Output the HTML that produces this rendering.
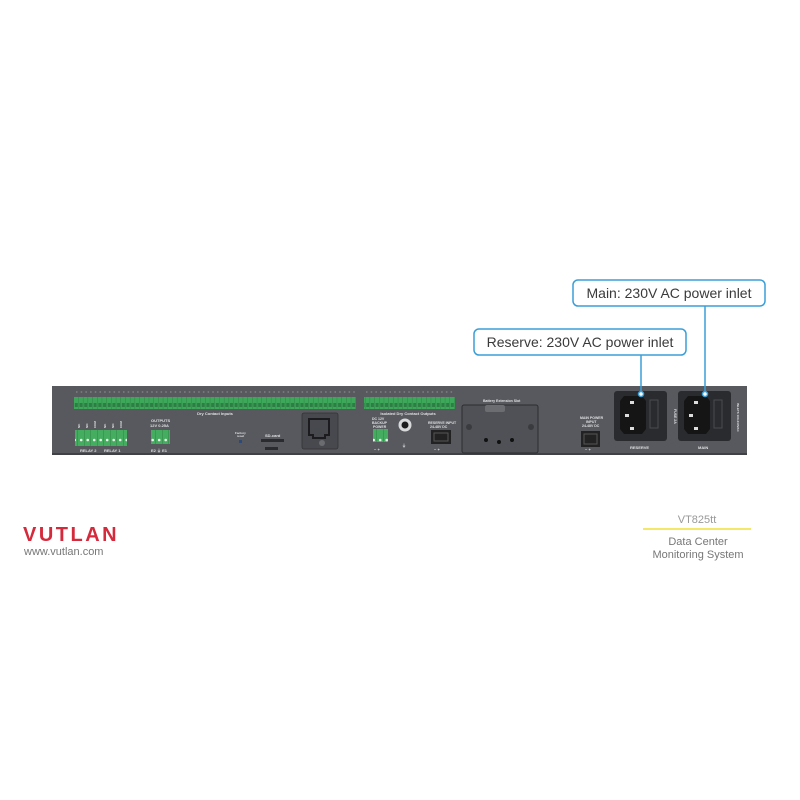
<!DOCTYPE html>
<html><head><meta charset="utf-8"><style>
html,body{margin:0;padding:0;background:#fff;width:800px;height:800px;overflow:hidden}
svg{display:block}
text{font-family:"Liberation Sans",sans-serif}
</style></head><body>
<svg width="800" height="800" viewBox="0 0 800 800" xmlns="http://www.w3.org/2000/svg">
<defs>
<pattern id="term" x="74" y="397" width="4.7" height="12" patternUnits="userSpaceOnUse">
<rect width="4.7" height="12" fill="#3ea85a"/>
<rect x="0.8" y="6" width="3" height="4" fill="#2d7d44"/>
<rect x="4.2" width="0.5" height="12" fill="#2f8446"/>
</pattern>
<pattern id="term2" width="6.5" height="16" patternUnits="userSpaceOnUse">
<rect width="6.5" height="16" fill="#45ad5f"/>
<circle cx="3.2" cy="8" r="1.3" fill="#e8f5ea"/>
<rect x="6" width="0.5" height="16" fill="#2f8446"/>
</pattern>
</defs>
<rect x="52" y="386" width="695" height="69" fill="#57595e"/>
<rect x="52" y="453" width="695" height="2" fill="#3f4146"/>
<rect x="74" y="397" width="282" height="12" fill="url(#term)"/>
<rect x="364" y="397" width="91" height="12" fill="url(#term)"/>
<g fill="#dfe0e2" font-size="4">
<text x="215" y="415" text-anchor="middle" font-weight="bold">Dry Contact Inputs</text>
<text x="408" y="415" text-anchor="middle" font-weight="bold">Isolated Dry Contact Outputs</text>
</g>
<g stroke="#cfd0d2" stroke-width="0.6">
<path d="M76 392h282M366 392h89" stroke-dasharray="1.5 3.2"/>
</g>
<rect x="75" y="430" width="52" height="16" fill="url(#term2)"/>
<g fill="#dfe0e2" font-size="4" font-weight="bold">
<text x="80" y="452">RELAY 2</text><text x="104" y="452">RELAY 1</text>
<text x="151" y="422">OUTPUTS</text><text x="150" y="427">12V 0.25A</text>
<text x="151" y="452">E2 ⏚ E1</text>
<text x="235" y="434" font-size="3">Factory</text><text x="237" y="437" font-size="3">reset</text>
<text x="265" y="437">SD-card</text>
<text x="372" y="420" font-size="3.5">DC 12V</text><text x="372" y="424" font-size="3.5">BACKUP</text><text x="373" y="428" font-size="3.5">POWER</text>
<text x="374" y="451">− +</text>
<text x="402" y="447">⏚</text>
<text x="428" y="424" font-size="3.5">RESERVE INPUT</text><text x="430" y="428" font-size="3.5">24-48V DC</text>
<text x="434" y="451">− +</text>
<text x="483" y="402" font-size="3.5">Battery Extension Slot</text>
<text x="580" y="419" font-size="3.5">MAIN POWER</text><text x="586" y="423" font-size="3.5">INPUT</text><text x="582" y="427" font-size="3.5">24-48V DC</text>
<text x="585" y="451">− +</text>
<text x="630" y="449">RESERVE</text>
<text x="698" y="449">MAIN</text>
</g>
<g fill="#dfe0e2" font-size="3" font-weight="bold">
<text x="80" y="428" transform="rotate(-90 80 428)">NC</text>
<text x="88" y="428" transform="rotate(-90 88 428)">NO</text>
<text x="96" y="428" transform="rotate(-90 96 428)">COM</text>
<text x="106" y="428" transform="rotate(-90 106 428)">NC</text>
<text x="114" y="428" transform="rotate(-90 114 428)">NO</text>
<text x="122" y="428" transform="rotate(-90 122 428)">COM</text>
</g>
<rect x="151" y="430" width="19" height="14" fill="url(#term2)"/>
<rect x="239" y="440" width="3" height="3" fill="#2b4a77"/>
<rect x="261" y="439" width="23" height="3" fill="#2a2b2e"/>
<rect x="265" y="447" width="13" height="3" fill="#2a2b2e"/>
<rect x="302" y="413" width="36" height="36" rx="2" fill="#48494e" stroke="#333" stroke-width="0.8"/>
<path d="M309 419h20v16h-4v3h-12v-3h-4z" fill="none" stroke="#1c1c1e" stroke-width="2"/>
<circle cx="322" cy="443" r="3" fill="#6a6c70"/>
<rect x="373" y="429" width="15" height="13" fill="url(#term2)"/>
<circle cx="405" cy="425" r="6.5" fill="#d8d9db"/><circle cx="405" cy="425" r="3.5" fill="#1c1c1e"/>
<path d="M431 430h20v14h-20z" fill="#222"/><path d="M434 433h14v8h-14z" fill="none" stroke="#555" stroke-width="1"/>
<rect x="462" y="405" width="76" height="48" rx="2" fill="#4f5156" stroke="#2c2d30" stroke-width="1"/>
<rect x="485" y="405" width="20" height="7" rx="2" fill="#6b6d71"/>
<circle cx="469" cy="427" r="3" fill="#3a3b3f"/><circle cx="531" cy="427" r="3" fill="#3a3b3f"/>
<circle cx="486" cy="440" r="2" fill="#111"/><circle cx="499" cy="442" r="2" fill="#111"/><circle cx="512" cy="440" r="2" fill="#111"/>
<path d="M581 431h19v16h-19z" fill="#222"/><path d="M584 434h13v10h-13z" fill="none" stroke="#555" stroke-width="1"/>
<rect x="614" y="391" width="53" height="50" rx="3" fill="#2a2b2e"/>
<path d="M620 401l4-5h18l4 5v28l-4 5h-18l-4-5z" fill="#151516"/>
<rect x="650" y="400" width="8" height="28" fill="none" stroke="#4a4b4f" stroke-width="1"/>
<rect x="630" y="401" width="4" height="3" fill="#ddd"/><rect x="625" y="414" width="4" height="3" fill="#ddd"/><rect x="630" y="427" width="4" height="3" fill="#ddd"/>
<rect x="678" y="391" width="53" height="50" rx="3" fill="#2a2b2e"/>
<path d="M684 401l4-5h18l4 5v28l-4 5h-18l-4-5z" fill="#151516"/>
<rect x="714" y="400" width="8" height="28" fill="none" stroke="#4a4b4f" stroke-width="1"/>
<rect x="694" y="401" width="4" height="3" fill="#ddd"/><rect x="689" y="414" width="4" height="3" fill="#ddd"/><rect x="694" y="427" width="4" height="3" fill="#ddd"/>
<text x="674" y="409" font-size="3.5" fill="#dfe0e2" font-weight="bold" transform="rotate(90 674 409)">FUSE 2A</text>
<text x="737" y="403" font-size="3" fill="#dfe0e2" font-weight="bold" transform="rotate(90 737 403)">INLETS 100-240VAC</text>
<g stroke="#3a9fd8" stroke-width="1.5" fill="#fff">
<line x1="705" y1="306" x2="705" y2="392"/>
<line x1="641" y1="355" x2="641" y2="392"/>
<circle cx="705" cy="394" r="2.5"/><circle cx="641" cy="394" r="2.5"/>
<rect x="573" y="280" width="192" height="26" rx="5"/>
<rect x="474" y="329" width="212" height="26" rx="5"/>
</g>
<g font-size="14" fill="#3a3a3a">
<text x="669" y="298" text-anchor="middle">Main: 230V AC power inlet</text>
<text x="580" y="347" text-anchor="middle">Reserve: 230V AC power inlet</text>
</g>
<text x="23" y="541" font-size="20" font-weight="bold" fill="#d42a3c" letter-spacing="2.5">VUTLAN</text>
<text x="24" y="555" font-size="11" fill="#777">www.vutlan.com</text>
<text x="697" y="523" font-size="11" fill="#999" text-anchor="middle">VT825tt</text>
<rect x="643" y="528" width="108" height="2" fill="#f3e86a"/>
<text x="698" y="545" font-size="11" fill="#777" text-anchor="middle">Data Center</text>
<text x="698" y="558" font-size="11" fill="#777" text-anchor="middle">Monitoring System</text>
</svg>
</body></html>
